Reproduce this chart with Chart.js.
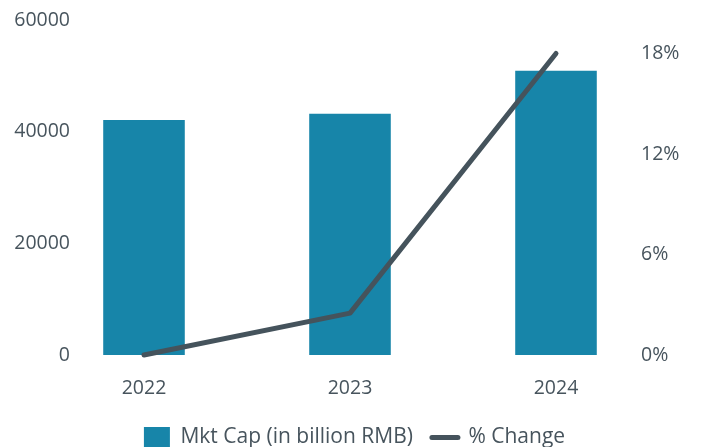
<!DOCTYPE html>
<html>
<head>
<meta charset="utf-8">
<script src="https://cdn.jsdelivr.net/npm/chart.js@4"></script>
<style>
  html, body { margin: 0; padding: 0; background: #fff; }
  #wrap { width: 701px; height: 447px; }
</style>
</head>
<body>
<div id="wrap"><canvas id="chart"></canvas></div>
<script>
// Datos
const years = ['2022', '2023', '2024'];
const mktCap = [42100, 43200, 50900];
const pctChange = [0, 2.5, 18];
const leftTicks = [0, 20000, 40000, 60000];
const rightTicks = [0, 6, 12, 18];

const textColor = '#47545d';
const barColor = '#1785a9';
const lineColor = '#45535c';
const fontFamily = '"Open Sans", sans-serif';

// Ancho fijo del eje y sin relleno vertical extra
const fijarEje = ancho => scale => {
    scale.width = ancho;
    scale.paddingTop = 0;
    scale.paddingBottom = 0;
};

// Leyenda un poco desplazada a la derecha, como en el original
const moverLeyenda = {
    id: 'moverLeyenda',
    afterLayout(chart) {
        chart.legend.left += 4;
        chart.legend.right += 4;
    }
};

const ctx = document.getElementById('chart').getContext('2d');
new Chart(ctx, {
    data: {
        labels: years,
        datasets: [
            {
                type: 'bar',
                label: 'Mkt Cap (in billion RMB)',
                data: mktCap,
                backgroundColor: barColor,
                yAxisID: 'y',
                categoryPercentage: 1,
                barPercentage: 0.396,
                clip: false,
                order: 2
            },
            {
                type: 'line',
                label: '% Change',
                data: pctChange,
                borderColor: lineColor,
                backgroundColor: lineColor,
                borderWidth: 5,
                borderCapStyle: 'round',
                borderJoinStyle: 'round',
                pointRadius: 0,
                tension: 0,
                clip: false,
                yAxisID: 'y1',
                order: 1
            }
        ]
    },
    options: {
        responsive: true,
        maintainAspectRatio: false,
        animation: false,
        layout: { padding: { top: 20, bottom: -11, left: 0, right: 0 } },
        scales: {
            x: {
                offset: false,
                grid: { display: false, drawTicks: false },
                border: { display: false },
                afterFit: scale => { scale.height = 53; },
                ticks: { color: textColor, font: { family: fontFamily, size: 19.5 }, padding: 21.5 }
            },
            y: {
                position: 'left',
                min: 0,
                max: 60000,
                grid: { display: false, drawTicks: false },
                border: { display: false },
                afterBuildTicks: axis => { axis.ticks = leftTicks.map(v => ({ value: v })); },
                afterFit: fijarEje(144),
                ticks: {
                    color: textColor,
                    font: { family: fontFamily, size: 19.5 },
                    padding: 74,
                    callback: v => String(v)
                }
            },
            y1: {
                position: 'right',
                min: 0,
                max: 20,
                grid: { display: false, drawTicks: false },
                border: { display: false },
                afterBuildTicks: axis => { axis.ticks = rightTicks.map(v => ({ value: v })); },
                afterFit: fijarEje(145),
                ticks: {
                    color: textColor,
                    font: { family: fontFamily, size: 19.5 },
                    padding: 85,
                    callback: v => v + '%'
                }
            }
        },
        plugins: {
            tooltip: { enabled: false },
            legend: {
                position: 'bottom',
                labels: {
                    color: textColor,
                    font: { family: fontFamily, size: 21 },
                    usePointStyle: true,
                    pointStyleWidth: 26,
                    padding: 19,
                    sort: (a, b) => a.datasetIndex - b.datasetIndex,
                    generateLabels: chart => Chart.defaults.plugins.legend.labels.generateLabels(chart).map(l => {
                        const esBarra = l.datasetIndex === 0;
                        return {
                            ...l,
                            pointStyle: esBarra ? 'rect' : 'line',
                            lineWidth: esBarra ? 0 : 5,
                            lineCap: 'round',
                            strokeStyle: esBarra ? barColor : lineColor,
                            fillStyle: esBarra ? barColor : lineColor
                        };
                    })
                }
            }
        }
    },
    plugins: [moverLeyenda]
});
</script>
</body>
</html>
